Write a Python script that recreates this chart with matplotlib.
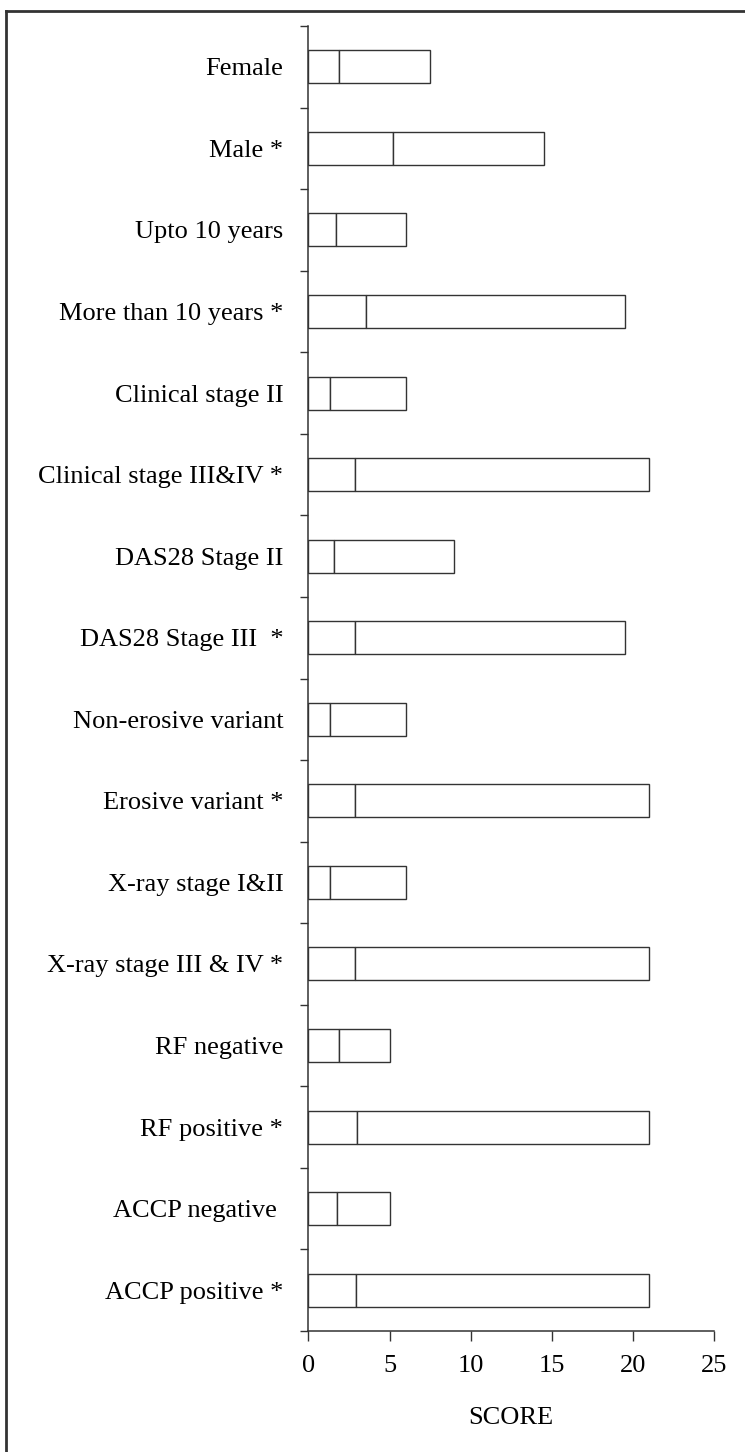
import matplotlib
matplotlib.use("Agg")
import matplotlib.pyplot as plt
from matplotlib.lines import Line2D

categories = [
    "Female", "Male *", "Upto 10 years", "More than 10 years *",
    "Clinical stage II", "Clinical stage III&IV *", "DAS28 Stage II",
    "DAS28 Stage III  *", "Non-erosive variant", "Erosive variant *",
    "X-ray stage I&II", "X-ray stage III & IV *", "RF negative",
    "RF positive *", "ACCP negative ", "ACCP positive *",
]
lower_values = [1.9, 5.2, 1.7, 3.55, 1.35, 2.9, 1.6, 2.9, 1.35, 2.9,
                1.35, 2.9, 1.9, 3.0, 1.75, 2.95]
upper_values = [7.5, 14.5, 6.0, 19.5, 6.0, 21.0, 9.0, 19.5, 6.0, 21.0,
                6.0, 21.0, 5.0, 21.0, 5.0, 21.0]
x_ticks = [0, 5, 10, 15, 20, 25]
x_label = "SCORE"

plt.rcParams['font.family'] = ['Liberation Serif', 'DejaVu Serif']
W, H = 745, 1452
fig = plt.figure(figsize=(W / 100, H / 100), dpi=100)
ax = fig.add_axes([308.3 / W, 1 - 1331 / H, (714.3 - 308.3) / W, (1331 - 26) / H])

edge = '#333333'
ypos = list(range(len(categories)))
seg_widths = [u - l for l, u in zip(lower_values, upper_values)]
ax.barh(ypos, lower_values, left=0, height=0.405, color='white',
        edgecolor=edge, linewidth=1.0)
ax.barh(ypos, seg_widths, left=lower_values, height=0.405, color='white',
        edgecolor=edge, linewidth=1.0)

ax.set_xlim(0, 25)
ax.set_ylim(len(categories) - 0.5, -0.5)
ax.set_xticks(x_ticks)
ax.set_xticklabels([str(t) for t in x_ticks], fontsize=19)
ax.set_yticks(ypos)
ax.set_yticklabels(categories, fontsize=19)
ax.set_yticks([i - 0.5 for i in range(len(categories) + 1)], minor=True)
ax.tick_params(axis='y', which='major', length=0, pad=18)
ax.tick_params(axis='y', which='minor', length=6, width=1.0, color=edge, direction='out')
ax.tick_params(axis='x', which='major', length=7, width=1.0, color=edge, pad=10)
ax.set_xlabel(x_label, fontsize=19, labelpad=22)

for s in ['top', 'right']:
    ax.spines[s].set_visible(False)
for s in ['left', 'bottom']:
    ax.spines[s].set_color(edge)
    ax.spines[s].set_linewidth(1.1)

# outer frame (left and top edges visible)
fig.add_artist(Line2D([6 / W, 6 / W], [0, 1 - 11 / H], transform=fig.transFigure,
                      color=edge, linewidth=2.0))
fig.add_artist(Line2D([6 / W, 1], [1 - 11 / H, 1 - 11 / H], transform=fig.transFigure,
                      color=edge, linewidth=2.0))

fig.savefig("out.png", dpi=100, facecolor='white')
